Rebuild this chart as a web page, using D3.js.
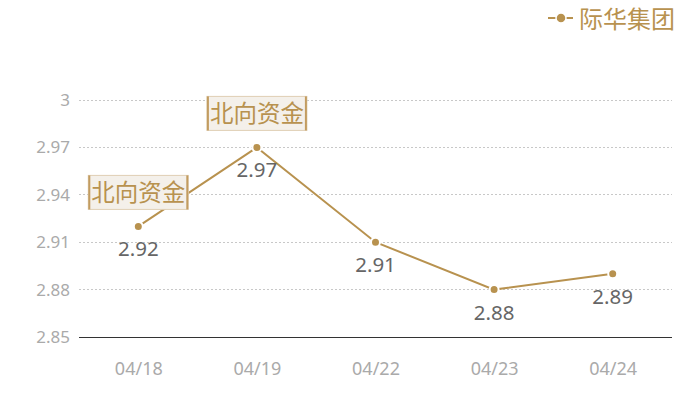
<!DOCTYPE html>
<html><head><meta charset="utf-8">
<script src="https://cdn.jsdelivr.net/npm/d3@7"></script>
<style>body{margin:0;background:#fff;}svg{display:block;font-family:"Noto Sans CJK SC","Noto Sans",sans-serif;}</style>
</head><body>
<svg id="c" width="700" height="400"></svg>
<script>
const categories = ["04/18","04/19","04/22","04/23","04/24"];
const values = [2.92,2.97,2.91,2.88,2.89];
const yTicks = [2.85,2.88,2.91,2.94,2.97,3];
const seriesName = "际华集团";
const annotations = [{idx:0,text:"北向资金"},{idx:1,text:"北向资金"}];

const gold = "#b8924f";
const svg = d3.select("#c");
const m = {l:79, r:672, t:100, b:337};
const x = d3.scalePoint().domain(categories).range([m.l, m.r]).padding(0.5);
const y = d3.scaleLinear().domain([2.85,3]).range([m.b, m.t]);

// grid
svg.append("g").selectAll("line").data(yTicks.filter(d=>d!==2.85)).join("line")
  .attr("x1",m.l).attr("x2",m.r).attr("y1",d=>y(d)).attr("y2",d=>y(d))
  .attr("stroke","#c8c8c8").attr("stroke-dasharray","2,2").attr("shape-rendering","crispEdges");

// y axis
const ya = svg.append("g").attr("transform",`translate(${m.l},0)`)
  .call(d3.axisLeft(y).tickValues(yTicks).tickSize(0).tickPadding(9).tickFormat(d=>d3.format("")(+d.toFixed(2))));
ya.select(".domain").remove();
ya.selectAll("text").attr("fill","#aaa").attr("font-size",17).attr("font-family","'Noto Sans',sans-serif");

// x axis
const xa = svg.append("g").attr("transform",`translate(0,${m.b})`)
  .call(d3.axisBottom(x).tickSize(0).tickPadding(25));
xa.select(".domain").attr("stroke","#333").attr("d",`M${m.l},0.5H${m.r}`);
xa.selectAll("text").attr("fill","#aaa").attr("font-size",18).attr("font-family","'Noto Sans',sans-serif");

// line
svg.append("path").datum(values)
  .attr("d", d3.line().x((d,i)=>x(categories[i])).y(d=>y(d)))
  .attr("fill","none").attr("stroke",gold).attr("stroke-width",2);

svg.append("g").selectAll("circle").data(values).join("circle")
  .attr("cx",(d,i)=>x(categories[i])).attr("cy",d=>y(d)).attr("r",4.5)
  .attr("fill",gold).attr("stroke","#fff").attr("stroke-width",2);

// value labels
svg.append("g").selectAll("text").data(values).join("text")
  .attr("x",(d,i)=>x(categories[i])).attr("y",d=>y(d)+30)
  .attr("text-anchor","middle").attr("fill","#666").attr("font-size",20.5)
  .attr("font-family","'Noto Sans',sans-serif")
  .text(d=>d.toFixed(2));

// annotations
annotations.forEach(a=>{
  const cx = x(categories[a.idx]), cy = y(values[a.idx]);
  const w = 100, h = 34;
  const g = svg.append("g").attr("transform",`translate(${cx-w/2},${cy-17-h})`);
  g.append("rect").attr("width",w).attr("height",h).attr("fill","#f4f0ea")
    .attr("stroke","#dfcfb4").attr("stroke-width",1);
  g.append("rect").attr("x",0).attr("y",0).attr("width",2).attr("height",h).attr("fill","#c29c60");
  g.append("rect").attr("x",w-2).attr("y",0).attr("width",2).attr("height",h).attr("fill","#c29c60");
  g.append("text").attr("x",w/2).attr("y",h/2+8.5).attr("text-anchor","middle")
    .attr("fill",gold).attr("font-size",23.5).text(a.text);
});

// legend
const lg = svg.append("g");
lg.append("line").attr("x1",548).attr("x2",573).attr("y1",18).attr("y2",18).attr("stroke",gold).attr("stroke-width",2);
lg.append("circle").attr("cx",561).attr("cy",18).attr("r",5).attr("fill",gold).attr("stroke","#fff").attr("stroke-width",1.5);
lg.append("text").attr("x",579).attr("y",28).attr("fill",gold).attr("font-size",24).text(seriesName);
</script>
</body></html>
